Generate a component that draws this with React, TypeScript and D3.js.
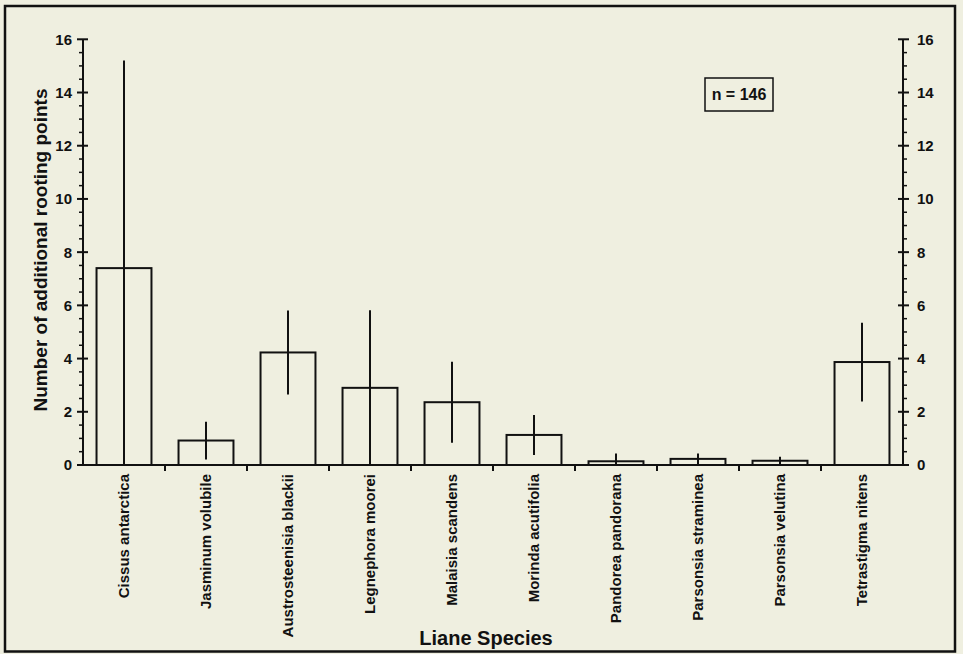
import React from "react";
import * as d3 from "d3";

const categories = [
  "Cissus antarctica",
  "Jasminum volubile",
  "Austrosteenisia blackii",
  "Legnephora moorei",
  "Malaisia scandens",
  "Morinda acutifolia",
  "Pandorea pandorana",
  "Parsonsia straminea",
  "Parsonsia velutina",
  "Tetrastigma nitens",
];
const means = [7.4, 0.92, 4.23, 2.9, 2.36, 1.13, 0.14, 0.23, 0.16, 3.87];
const errors = [7.8, 0.71, 1.58, 2.92, 1.52, 0.75, 0.29, 0.2, 0.15, 1.48];
const majorTicks = [0, 2, 4, 6, 8, 10, 12, 14, 16];
const yTitle = "Number of additional rooting points";
const xTitle = "Liane Species";
const note = "n = 146";

const W = 963;
const H = 654;
const BG = "#efefe0";
const FONT = "'Liberation Sans', Arial, Helvetica, sans-serif";

export default function App() {
  const left = 83;
  const right = 903;
  const bottom = 465;
  const top = 39.3;

  const x = d3
    .scaleBand<string>()
    .domain(categories)
    .range([left, right])
    .paddingInner(0.33)
    .paddingOuter(0.165);
  const y = d3.scaleLinear().domain([0, 16]).range([bottom, top]);

  const minorTicks = d3.range(0, 16.01, 0.5).filter((v) => v % 2 !== 0);
  const step = x.step();
  const boundaryTicks = categories.slice(1).map((c) => (x(c) as number) - (step - x.bandwidth()) / 2);

  return (
    <svg
      width={W}
      height={H}
      style={{ position: "absolute", left: 0, top: 0, background: BG }}
      fontFamily={FONT}
    >
      <rect x={0} y={0} width={W} height={H} fill={BG} />
      <rect x={5} y={6} width={950} height={645.5} fill="none" stroke="#111" strokeWidth={2.5} />

      {/* bars */}
      {categories.map((c, i) => (
        <rect
          key={c}
          x={x(c)}
          y={y(means[i])}
          width={x.bandwidth()}
          height={bottom - y(means[i])}
          fill="none"
          stroke="#111"
          strokeWidth={2}
        />
      ))}
      {/* error bars */}
      {categories.map((c, i) => {
        const cx = (x(c) as number) + x.bandwidth() / 2;
        return (
          <line
            key={"e" + c}
            x1={cx}
            x2={cx}
            y1={y(Math.max(0, means[i] - errors[i]))}
            y2={y(means[i] + errors[i])}
            stroke="#111"
            strokeWidth={2}
          />
        );
      })}

      {/* axes lines */}
      <line x1={left} x2={left} y1={y(16)} y2={bottom} stroke="#111" strokeWidth={2} />
      <line x1={right} x2={right} y1={y(16)} y2={bottom} stroke="#111" strokeWidth={2} />
      <line x1={left} x2={right} y1={bottom} y2={bottom} stroke="#111" strokeWidth={2} />

      {/* y ticks left and right */}
      {majorTicks.map((t) => (
        <g key={"mt" + t}>
          <line x1={left - 6} x2={left + 5} y1={y(t)} y2={y(t)} stroke="#111" strokeWidth={2} />
          <line x1={right - 5} x2={right + 6} y1={y(t)} y2={y(t)} stroke="#111" strokeWidth={2} />
          <text
            x={72}
            y={y(t)}
            dy="0.36em"
            textAnchor="end"
            fontSize={15}
            fontWeight="bold"
            fill="#111"
          >
            {t}
          </text>
          <text
            x={917}
            y={y(t)}
            dy="0.36em"
            textAnchor="start"
            fontSize={15}
            fontWeight="bold"
            fill="#111"
          >
            {t}
          </text>
        </g>
      ))}
      {minorTicks.map((t) => (
        <g key={"mn" + t}>
          <line x1={left - 4} x2={left} y1={y(t)} y2={y(t)} stroke="#111" strokeWidth={1.5} />
          <line x1={right} x2={right + 4} y1={y(t)} y2={y(t)} stroke="#111" strokeWidth={1.5} />
        </g>
      ))}

      {/* x ticks */}
      {boundaryTicks.map((bx, i) => (
        <line key={"xt" + i} x1={bx} x2={bx} y1={bottom} y2={bottom + 6} stroke="#111" strokeWidth={2} />
      ))}

      {/* category labels */}
      {categories.map((c) => {
        const cx = (x(c) as number) + x.bandwidth() / 2;
        return (
          <text
            key={"l" + c}
            transform={`translate(${cx},474) rotate(-90)`}
            dy="0.36em"
            textAnchor="end"
            fontSize={15}
            fontWeight="bold"
            fill="#111"
          >
            {c}
          </text>
        );
      })}

      {/* axis titles */}
      <text
        transform={`translate(40,250) rotate(-90)`}
        dy="0.36em"
        textAnchor="middle"
        fontSize={19}
        fontWeight="bold"
        fill="#111"
      >
        {yTitle}
      </text>
      <text x={486} y={645} textAnchor="middle" fontSize={20} fontWeight="bold" fill="#111">
        {xTitle}
      </text>

      {/* n box */}
      <rect x={705} y={78} width={68} height={33} fill="none" stroke="#111" strokeWidth={1.5} />
      <text x={739} y={94.5} dy="0.36em" textAnchor="middle" fontSize={16} fontWeight="bold" fill="#111">
        {note}
      </text>
    </svg>
  );
}
